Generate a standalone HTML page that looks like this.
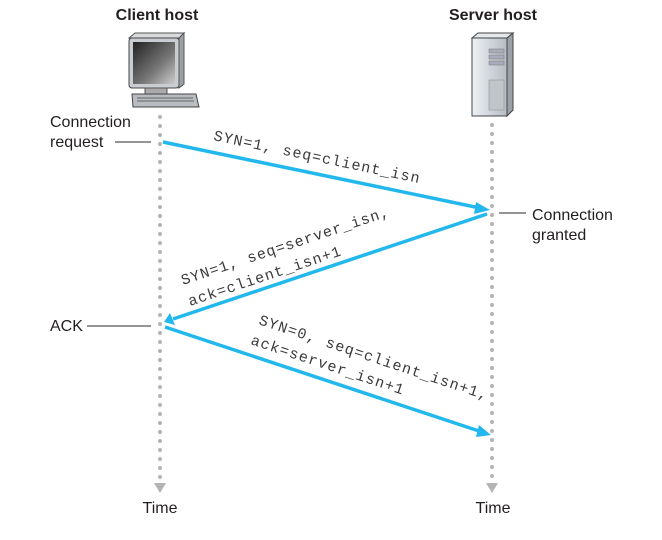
<!DOCTYPE html>
<html><head><style>
html,body{margin:0;padding:0;background:#fff;}
svg{display:block;}
.s{font-family:"Liberation Sans",sans-serif;font-size:16px;fill:#231f20;}
.b{font-weight:bold;}
.m{font-family:"Liberation Mono",monospace;font-size:15px;fill:#3a3a3a;}
</style></head><body>
<svg width="662" height="540" viewBox="0 0 662 540" xmlns="http://www.w3.org/2000/svg">
<defs>
<linearGradient id="scr" x1="0" y1="0" x2="1" y2="1"><stop offset="0" stop-color="#222"/><stop offset="0.6" stop-color="#777"/><stop offset="1" stop-color="#ccc"/></linearGradient>
<linearGradient id="srv" x1="0" y1="0" x2="1" y2="0"><stop offset="0" stop-color="#eef1f4"/><stop offset="1" stop-color="#b5bcc4"/></linearGradient>
</defs>
<text class="s b" x="157" y="20" text-anchor="middle">Client host</text>
<text class="s b" x="493" y="20" text-anchor="middle">Server host</text>
<!-- monitor -->
<polygon points="129,38 135,33 184,33 179,38" fill="#d8dadc" stroke="#555" stroke-width="1"/>
<rect x="129" y="38" width="50" height="50" rx="3" fill="#c9ccd0" stroke="#444"/>
<rect x="133" y="42" width="42" height="42" fill="url(#scr)"/>
<polygon points="179,38 184,33 184,84 179,88" fill="#9ca0a5" stroke="#555"/>
<rect x="145" y="88" width="22" height="6" fill="#aaa" stroke="#555"/>
<polygon points="132,94 196,94 199,107 133,107" fill="#b9bcc0" stroke="#444"/>
<line x1="137" y1="98" x2="193" y2="98" stroke="#666"/><line x1="137" y1="101" x2="194" y2="101" stroke="#666"/>
<!-- server -->
<polygon points="472,38 478,33 513,33 507,38" fill="#e6e9ec" stroke="#444"/>
<rect x="472" y="38" width="35" height="78" fill="url(#srv)" stroke="#444"/>
<polygon points="507,38 513,33 513,110 507,116" fill="#9aa1a8" stroke="#444"/>
<rect x="489" y="49" width="15" height="4" fill="#aab" stroke="#777" stroke-width=".5"/>
<rect x="489" y="55" width="15" height="4" fill="#aab" stroke="#777" stroke-width=".5"/>
<rect x="489" y="61" width="15" height="4" fill="#aab" stroke="#777" stroke-width=".5"/>
<rect x="489" y="80" width="15" height="30" fill="#c0c5ca" stroke="#888" stroke-width=".5"/>
<!-- timelines -->
<line x1="160" y1="117" x2="160" y2="480" stroke="#b4b4b6" stroke-width="4" stroke-linecap="round" stroke-dasharray="0 9"/>
<line x1="492" y1="125" x2="492" y2="480" stroke="#b4b4b6" stroke-width="4" stroke-linecap="round" stroke-dasharray="0 9"/>
<polygon points="154,483 166,483 160,493" fill="#b4b4b6"/>
<polygon points="486,483 498,483 492,493" fill="#b4b4b6"/>
<text class="s" x="160" y="513" text-anchor="middle">Time</text>
<text class="s" x="493" y="513" text-anchor="middle">Time</text>
<!-- side labels -->
<text class="s" x="50" y="127">Connection</text>
<text class="s" x="50" y="147">request</text>
<line x1="115" y1="142" x2="151" y2="142" stroke="#555" stroke-width="1.2"/>
<text class="s" x="532" y="220">Connection</text>
<text class="s" x="532" y="240">granted</text>
<line x1="499" y1="213" x2="526" y2="213" stroke="#555" stroke-width="1.2"/>
<text class="s" x="50" y="331">ACK</text>
<line x1="87" y1="326" x2="151" y2="326" stroke="#555" stroke-width="1.2"/>
<!-- arrows -->
<g stroke="#22b8ee" stroke-width="3.5" fill="none">
<line x1="163" y1="142" x2="480" y2="208"/>
<line x1="487" y1="214" x2="173" y2="319"/>
<line x1="165" y1="327" x2="482" y2="432"/>
</g>
<g fill="#22b8ee">
<polygon points="490,210 476,202 474,214"/>
<polygon points="164,322 170,313 175,325"/>
<polygon points="491,435 479,425 476,437"/>
</g>
<!-- message labels -->
<text class="m" x="213" y="140" transform="rotate(11.8 213 140)" textLength="210">SYN=1, seq=client_isn</text>
<text class="m" transform="translate(183,285) rotate(-18.5)" textLength="218">SYN=1, seq=server_isn,</text>
<text class="m" transform="translate(190,306) rotate(-18.5)" textLength="160">ack=client_isn+1</text>
<text class="m" transform="translate(258,324) rotate(18.4)" textLength="240">SYN=0, seq=client_isn+1,</text>
<text class="m" transform="translate(250,344) rotate(18.4)" textLength="160">ack=server_isn+1</text>
</svg>
</body></html>
